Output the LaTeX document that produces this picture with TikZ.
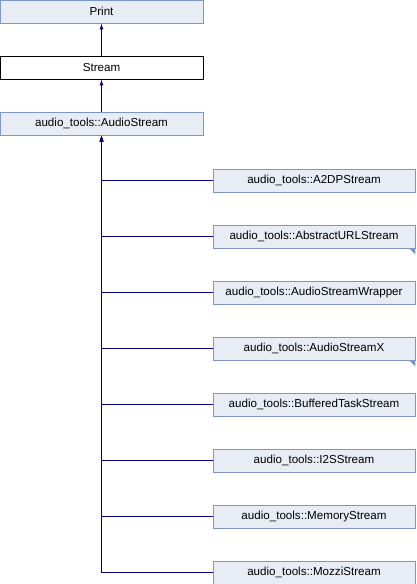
\documentclass[tikz,border=0pt]{standalone}
\usepackage{fontspec}
\setmainfont{Liberation Sans}
\usetikzlibrary{arrows.meta, positioning}
\definecolor{dxFill}{HTML}{E8ECF5}
\definecolor{dxBorder}{HTML}{7C95CA}
\definecolor{dxEdge}{HTML}{000080}

\begin{document}
\begin{tikzpicture}[x=1pt, y=-1pt, font=\fontsize{11.6}{14}\selectfont,
        cls/.style={draw=dxBorder, fill=dxFill, line width=0.9pt, minimum height=23pt, inner sep=0pt, text=black},
        base/.style={cls, minimum width=203pt},
        sub/.style={cls, minimum width=202pt},
        cur/.style={base, draw=black, fill=white},
        inh/.style={dxEdge, line width=0.9pt, -{Latex[length=6pt, width=4pt]}},
        more/.style={fill=dxBorder}]
        \useasboundingbox (0,0) rectangle (416,584);
        % base chain
        \node[base] (print) at (101.5,11.5) {Print};
        \node[cur] (stream) at (101.5,67.5) {Stream};
        \node[base] (as) at (101.5,123.5) {audio\_tools::AudioStream};
        % derived classes
        \node[sub] (a2dp) at (314,180.5) {audio\_tools::A2DPStream};
        \node[sub] (url) at (314,236.5) {audio\_tools::AbstractURLStream};
        \node[sub] (wrap) at (314,292.5) {audio\_tools::AudioStreamWrapper};
        \node[sub] (asx) at (314,348.5) {audio\_tools::AudioStreamX};
        \node[sub] (buf) at (314,404.5) {audio\_tools::BufferedTaskStream};
        \node[sub] (i2s) at (314,460.5) {audio\_tools::I2SStream};
        \node[sub] (mem) at (314,516.5) {audio\_tools::MemoryStream};
        \node[sub] (mozzi) at (314,572.5) {audio\_tools::MozziStream};
        % classes with further children
        \fill[more] ([xshift=-6pt]url.south east) -- (url.south east) -- ([yshift=-6pt]url.south east) -- cycle;
        \fill[more] ([xshift=-6pt]asx.south east) -- (asx.south east) -- ([yshift=-6pt]asx.south east) -- cycle;
        % inheritance
        \draw[inh] (stream) -- (print);
        \draw[inh] (as) -- (stream);
        \foreach \c in {a2dp, url, wrap, asx, buf, i2s, mem, mozzi}
          \draw[inh] (\c.west) -| (as.south);
      \end{tikzpicture}
\end{document}
